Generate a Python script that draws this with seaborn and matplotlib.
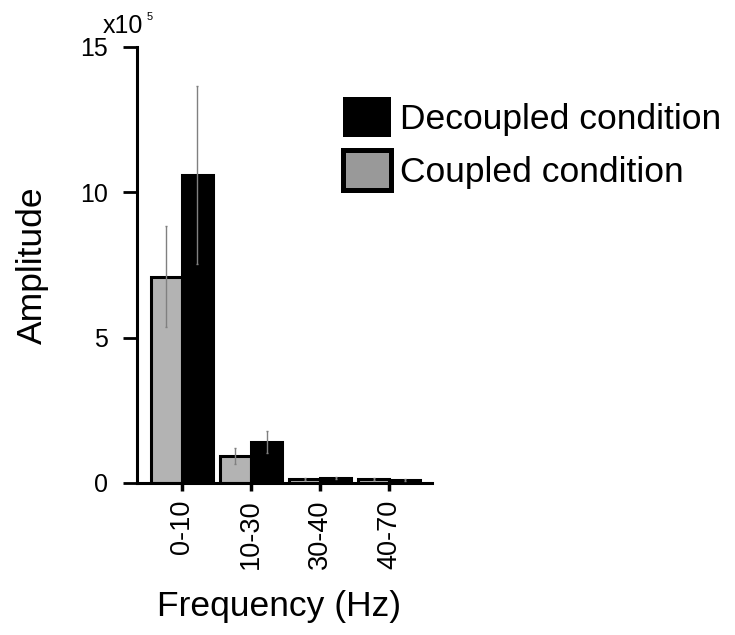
import matplotlib
matplotlib.use("Agg")
import matplotlib.pyplot as plt
import seaborn as sns
import pandas as pd
from matplotlib.patches import Patch

# ---- data (amplitude in units of 1e5) ----
frequencies = ["0-10", "10-30", "30-40", "40-70"]
conditions = ["Coupled condition", "Decoupled condition"]
coupled_mean = [7.1, 0.93, 0.15, 0.13]
coupled_err = [1.75, 0.26, 0.03, 0.03]
decoupled_mean = [10.6, 1.42, 0.18, 0.10]
decoupled_err = [3.05, 0.38, 0.03, 0.03]

sns.set_style("ticks")
plt.rcParams["font.family"] = ["Liberation Sans", "DejaVu Sans"]
plt.rcParams["text.color"] = "black"
plt.rcParams["axes.labelcolor"] = "black"
plt.rcParams["xtick.color"] = "black"
plt.rcParams["ytick.color"] = "black"
plt.rcParams["axes.edgecolor"] = "black"

df = pd.DataFrame({
    "freq": frequencies * 2,
    "cond": [conditions[0]] * 4 + [conditions[1]] * 4,
    "amp": coupled_mean + decoupled_mean,
})

bar_colors = {"Coupled condition": "#b3b3b3", "Decoupled condition": "#000000"}

fig = plt.figure(figsize=(7.35, 6.35), dpi=100)
ax = fig.add_axes([137 / 735, 1 - 483 / 635, 295 / 735, 436 / 635])

sns.barplot(data=df, x="freq", y="amp", hue="cond", order=frequencies,
            hue_order=conditions, palette=bar_colors, errorbar=None,
            width=0.9, edgecolor="black", linewidth=2.2, legend=False, ax=ax)

errs = [coupled_err, decoupled_err]
means = [coupled_mean, decoupled_mean]
for cont, m, e in zip(ax.containers, means, errs):
    xs = [b.get_x() + b.get_width() / 2 for b in cont]
    ax.errorbar(xs, m, yerr=e, fmt="none", ecolor="#808080", elinewidth=1.0,
                capsize=1, capthick=1, zorder=5)

ax.set_ylim(0, 15)
ax.set_xlim(-0.65, 3.62)
ax.set_yticks([0, 5, 10, 15])
ax.set_yticklabels(["0", "5", "10", "15"], fontsize=18)
ax.tick_params(axis="x", labelsize=19.5, labelrotation=90, length=6, width=2.5, pad=6)
ax.tick_params(axis="y", length=10, width=2, pad=11)
sns.despine(ax=ax)
for s in ["left", "bottom"]:
    ax.spines[s].set_linewidth(2.2)

ax.set_xlabel("Frequency (Hz)", fontsize=25.5)
ax.set_ylabel("Amplitude", fontsize=25.5)
ax.xaxis.set_label_coords(0.48, -0.245)
ax.yaxis.set_label_coords(-0.30, 0.5)

# scale factor label
fig.text(103 / 735, 1 - 33 / 635, "x10", fontsize=18, ha="left", va="baseline")
fig.text(147 / 735, 1 - 20 / 635, "5", fontsize=8, ha="left", va="baseline")

handles = [
    Patch(facecolor="black", edgecolor="black", linewidth=0, label="Decoupled condition"),
    Patch(facecolor="#999999", edgecolor="black", linewidth=3.6, label="Coupled condition"),
]
fig.legend(handles=handles, loc="upper left", bbox_to_anchor=(343 / 735, 1 - 97 / 635),
           frameon=False, fontsize=25.5, handlelength=1.35, handleheight=1.35,
           handletextpad=0.25, labelspacing=0.38, borderpad=0, borderaxespad=0)

fig.savefig("out.png", dpi=100)
